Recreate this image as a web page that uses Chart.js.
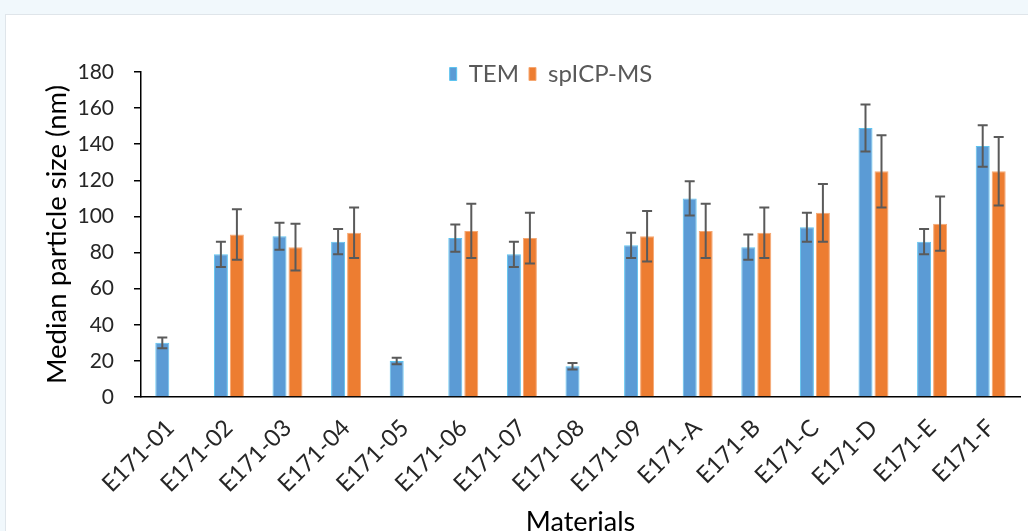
<!DOCTYPE html>
<html>
<head>
<meta charset="utf-8">
<script src="https://cdn.jsdelivr.net/npm/chart.js@4.4.1/dist/chart.umd.min.js"></script>
<style>
    html, body { margin: 0; padding: 0; width: 1028px; height: 531px; overflow: hidden; background: #f1f8fc; }
    #panel { position: absolute; left: 5px; top: 14px; width: 1040px; height: 540px; background: #fff; border: 1px solid #dfe5ea; }
    #wrap { position: absolute; left: 0; top: 0; width: 1030px; height: 530px; }
</style>
</head>
<body>
<div id="panel"><div id="wrap"><canvas id="sizeChart"></canvas></div></div>
<script>
// Median particle size per material, TEM vs spICP-MS
const categories = ["E171-01", "E171-02", "E171-03", "E171-04", "E171-05", "E171-06", "E171-07", "E171-08",
    "E171-09", "E171-A", "E171-B", "E171-C", "E171-D", "E171-E", "E171-F"];
const temValues = [30, 79, 89, 86, 20, 88, 79, 17, 84, 110, 83, 94, 149, 86, 139];
const temErrors = [3, 7, 7.5, 7, 1.8, 7.5, 7, 1.8, 7, 9.5, 7, 8, 13, 7, 11.5];
const icpValues = [null, 90, 83, 91, null, 92, 88, null, 89, 92, 91, 102, 125, 96, 125];
const icpErrors = [null, 14, 13, 14, null, 15, 14, null, 14, 15, 14, 16, 20, 15, 19];
const yTicks = [0, 20, 40, 60, 80, 100, 120, 140, 160, 180];

const FONT = "Lato, 'Open Sans', sans-serif";

// draws +/- error bars on top of each bar
const errorBars = {
    id: "errorBars",
    afterDatasetsDraw(chart) {
        const ctx = chart.ctx;
        const y = chart.scales.y;
        ctx.save();
        ctx.strokeStyle = "#5a5a5a";
        ctx.lineWidth = 2;
        chart.data.datasets.forEach((ds, di) => {
            const meta = chart.getDatasetMeta(di);
            meta.data.forEach((bar, i) => {
                const v = ds.data[i];
                const e = ds.errors[i];
                if (v == null || e == null) return;
                const top = y.getPixelForValue(v + e);
                const bot = y.getPixelForValue(v - e);
                ctx.beginPath();
                ctx.moveTo(bar.x, top); ctx.lineTo(bar.x, bot);
                ctx.moveTo(bar.x - 5, top); ctx.lineTo(bar.x + 5, top);
                ctx.moveTo(bar.x - 5, bot); ctx.lineTo(bar.x + 5, bot);
                ctx.stroke();
            });
        });
        ctx.restore();
    },
};

// put the legend inside the plot, level with the top tick
const legendPlacer = {
    id: "legendPlacer",
    beforeDraw(chart) {
        const lg = chart.legend;
        if (!lg) return;
        const w = lg.right - lg.left;
        lg.left = 545 - w / 2;
        lg.right = lg.left + w;
        lg.top = 59 - 10 - 24 / 2;
        lg.bottom = lg.top + 45;
    },
};

const canvas = document.getElementById("sizeChart");
new Chart(canvas, {
    type: "bar",
    data: {
        labels: categories,
        datasets: [
            {
                label: "TEM",
                data: temValues,
                errors: temErrors,
                backgroundColor: "#5b9bd5",
                borderColor: "#5cc4f0",
                borderWidth: 1,
                categoryPercentage: 0.546,
                barPercentage: 0.875,
            },
            {
                label: "spICP-MS",
                data: icpValues,
                errors: icpErrors,
                backgroundColor: "#ed7d31",
                borderColor: "#f6a872",
                borderWidth: 1,
                categoryPercentage: 0.546,
                barPercentage: 0.875,
            },
        ],
    },
    options: {
        responsive: true,
        maintainAspectRatio: false,
        animation: false,
        layout: { padding: { left: 35, top: 56, right: 16, bottom: 7 } },
        plugins: {
            tooltip: { enabled: false },
            legend: {
                position: "top",
                maxHeight: 1,
                labels: {
                    boxWidth: 7,
                    boxHeight: 13,
                    padding: 10,
                    color: "#595959",
                    font: { family: FONT, size: 24 },
                },
            },
        },
        scales: {
            x: {
                grid: { display: false },
                border: { color: "#000", width: 1.5 },
                ticks: {
                    autoSkip: false,
                    maxRotation: 45,
                    minRotation: 45,
                    padding: 9,
                    color: "#262626",
                    font: { family: FONT, size: 23.5 },
                },
                title: {
                    display: true,
                    text: "Materials",
                    color: "#000",
                    padding: 0,
                    font: { family: FONT, size: 27 },
                },
                afterFit(scale) { scale.height = 141; },
            },
            y: {
                min: 0,
                max: 180,
                afterBuildTicks(scale) { scale.ticks = yTicks.map((v) => ({ value: v })); },
                grid: { drawOnChartArea: false, drawTicks: true, tickLength: 7, color: "#000", lineWidth: 1.5 },
                border: { color: "#000", width: 1.5 },
                ticks: {
                    padding: 20,
                    color: "#262626",
                    font: { family: FONT, size: 21 },
                },
                title: {
                    display: true,
                    text: "Median particle size (nm)",
                    color: "#000",
                    padding: 0,
                    font: { family: FONT, size: 27.5 },
                },
                afterFit(scale) { scale.width = 100; },
            },
        },
    },
    plugins: [errorBars, legendPlacer],
});
</script>
</body>
</html>
